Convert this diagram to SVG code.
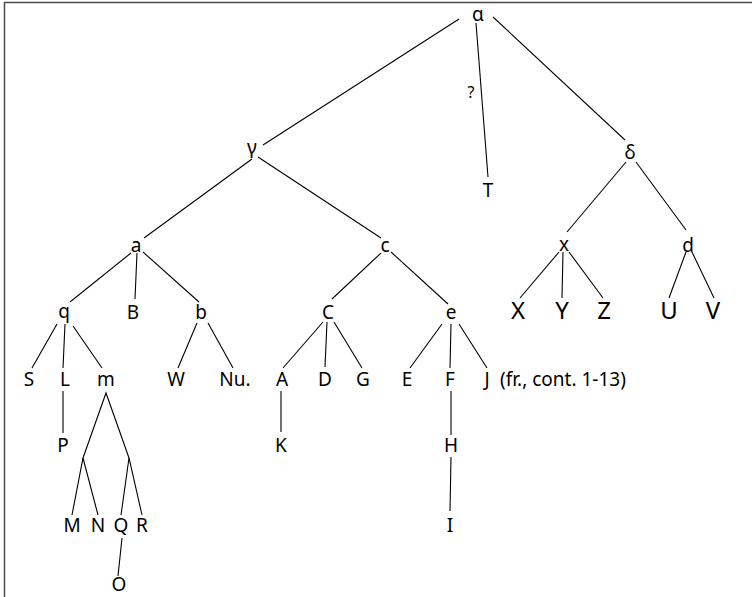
<svg xmlns="http://www.w3.org/2000/svg" width="752" height="597" viewBox="0 0 752 597">
<style>
text{font-family:"Noto Sans","DejaVu Sans",sans-serif;font-size:19px;fill:#000;text-anchor:middle}
.big{font-size:24px}
.q{font-size:16px}
.lbl{text-anchor:start}
#edges line,#edges polyline{stroke:#000;stroke-width:1.1;fill:none}
</style>
<rect x="4.5" y="2.5" width="800" height="700" fill="#fff" stroke="#4a4a4a" stroke-width="1.5"/>
<g id="edges">
<line x1="459" y1="19" x2="263" y2="145"/>
<line x1="476" y1="23" x2="488" y2="177"/>
<line x1="493" y1="17" x2="625" y2="140"/>
<line x1="252" y1="159" x2="144" y2="238"/>
<line x1="258" y1="157" x2="381" y2="238"/>
<line x1="626" y1="162" x2="567" y2="232"/>
<line x1="636" y1="162" x2="686" y2="230"/>
<line x1="131" y1="253" x2="70" y2="302"/>
<line x1="137" y1="253" x2="135" y2="299"/>
<line x1="143" y1="252" x2="199" y2="302"/>
<line x1="381" y1="253" x2="332" y2="299"/>
<line x1="391" y1="252" x2="448" y2="304"/>
<line x1="559" y1="252" x2="520" y2="298"/>
<line x1="563" y1="252" x2="562" y2="298"/>
<line x1="569" y1="252" x2="603" y2="298"/>
<line x1="686" y1="252" x2="669" y2="298"/>
<line x1="692" y1="252" x2="714" y2="298"/>
<line x1="57" y1="324" x2="32" y2="368"/>
<line x1="65" y1="324" x2="63" y2="368"/>
<line x1="73" y1="326" x2="102" y2="368"/>
<line x1="197" y1="323" x2="178" y2="368"/>
<line x1="208" y1="323" x2="233" y2="368"/>
<line x1="323" y1="322" x2="283" y2="368"/>
<line x1="327" y1="322" x2="325" y2="367"/>
<line x1="334" y1="322" x2="362" y2="368"/>
<line x1="442" y1="324" x2="410" y2="368"/>
<line x1="451" y1="324" x2="450" y2="368"/>
<line x1="459" y1="324" x2="487" y2="368"/>
<line x1="63" y1="391" x2="63" y2="433"/>
<polyline points="72,515 83,458 106,393 129,458 142,515"/>
<line x1="83" y1="458" x2="98" y2="515"/>
<line x1="129" y1="458" x2="121" y2="515"/>
<line x1="122" y1="538" x2="118" y2="576"/>
<line x1="281" y1="391" x2="281" y2="432"/>
<line x1="451" y1="391" x2="451" y2="435"/>
<line x1="451" y1="457" x2="450" y2="511"/>
</g>
<g id="n-alpha"><text x="478" y="21">α</text></g>
<g id="n-q-mark"><text class="q" x="471" y="98">?</text></g>
<g id="n-T"><text x="488" y="197">T</text></g>
<g id="n-gamma"><text x="252" y="154">γ</text></g>
<g id="n-delta"><text x="630" y="159">δ</text></g>
<g id="n-a"><text x="136" y="252">a</text></g>
<g id="n-c"><text x="385" y="252">c</text></g>
<g id="n-x"><text x="564" y="251">x</text></g>
<g id="n-d"><text x="688" y="252">d</text></g>
<g id="n-q"><text x="64" y="318">q</text></g>
<g id="n-B"><text x="133" y="319">B</text></g>
<g id="n-b"><text x="201" y="319">b</text></g>
<g id="n-C"><text x="328" y="319">C</text></g>
<g id="n-e"><text x="451" y="319">e</text></g>
<g id="n-X"><text class="big" x="518" y="319">X</text></g>
<g id="n-Y"><text class="big" x="562" y="319">Y</text></g>
<g id="n-Z"><text class="big" x="604" y="319">Z</text></g>
<g id="n-U"><text class="big" x="669" y="319">U</text></g>
<g id="n-V"><text class="big" x="713" y="319">V</text></g>
<g id="n-S"><text x="29" y="386">S</text></g>
<g id="n-L"><text x="65" y="386">L</text></g>
<g id="n-m"><text x="106" y="386">m</text></g>
<g id="n-W"><text x="176" y="386">W</text></g>
<g id="n-Nu"><text x="235" y="386">Nu.</text></g>
<g id="n-A"><text x="282" y="386">A</text></g>
<g id="n-D"><text x="325" y="386">D</text></g>
<g id="n-G"><text x="363" y="386">G</text></g>
<g id="n-E"><text x="407" y="386">E</text></g>
<g id="n-F"><text x="450" y="386">F</text></g>
<g id="n-J"><text x="487" y="386">J</text><text class="lbl" x="500" y="386">(fr., cont. 1-13)</text></g>
<g id="n-P"><text x="63" y="452">P</text></g>
<g id="n-K"><text x="281" y="452">K</text></g>
<g id="n-H"><text x="451" y="452">H</text></g>
<g id="n-M"><text x="72" y="532">M</text></g>
<g id="n-N"><text x="98" y="532">N</text></g>
<g id="n-Q"><text x="121" y="532">Q</text></g>
<g id="n-R"><text x="142" y="532">R</text></g>
<g id="n-I"><text x="450" y="532">I</text></g>
<g id="n-O"><text x="119" y="591">O</text></g>
</svg>
